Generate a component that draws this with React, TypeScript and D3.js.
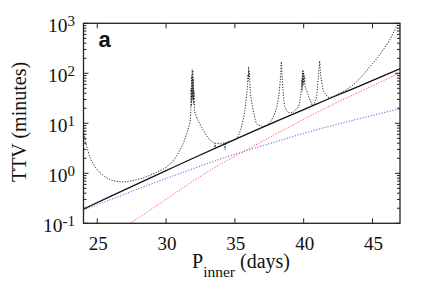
import React, { useEffect, useRef } from 'react';
import * as d3 from 'd3';

const periodTicks = [25, 30, 35, 40, 45];
const ttvTicks = [0.1, 1, 10, 100, 1000];
const ttvTickExponents = ['-1', '0', '1', '2', '3'];

// analytic curves
const periods = [24, 26, 28, 30, 32, 34, 36, 38, 40, 42, 44, 46, 47];
const totalTtv = [0.193, 0.35, 0.63, 1.13, 2.02, 3.57, 6.27, 10.9, 18.8, 32.4, 55, 94, 123];
const blueTtv = [0.185, 0.3, 0.49, 0.785, 1.245, 1.95, 2.92, 4.3, 6.3, 8.9, 12.3, 16.8, 19.5];
const redPeriods = [27.4, 28, 30, 32, 34, 36, 38, 40, 42, 44, 46, 47];
const redTtv = [0.1, 0.129, 0.302, 0.708, 1.55, 3.09, 6.17, 12, 22.9, 41.7, 75.9, 102];

// numerical ttv
const nbodyPeriods = [
	24.0, 24.1, 24.3, 24.5, 24.8, 25.1, 25.44, 25.9, 26.4, 26.9, 27.5, 28.0, 28.6, 29.3, 30.05, 30.6,
	31.02, 31.3, 31.5, 31.65, 31.76, 31.8, 31.82, 31.84, 31.86, 31.88, 31.9, 31.92, 31.94, 31.96,
	31.98, 32.0, 32.03, 32.08, 32.2, 32.36, 32.69, 33.0, 33.18, 33.4, 33.54, 33.56, 33.58, 33.9,
	34.1, 34.27, 34.29, 34.31, 34.7, 35.11, 35.4, 35.6, 35.75, 35.84, 35.92, 35.96, 35.98, 36.0,
	36.02, 36.05, 36.1, 36.24, 36.4, 36.57, 36.8, 37.05, 37.3, 37.6, 37.9, 38.1, 38.26, 38.33,
	38.38, 38.43, 38.5, 38.63, 38.8, 38.99, 39.2, 39.4, 39.6, 39.75, 39.84, 39.87, 39.89, 39.91,
	39.93, 39.95, 39.97, 39.99, 40.02, 40.06, 40.1, 40.2, 40.4, 40.57, 40.65, 40.8, 40.93, 41.05,
	41.12, 41.16, 41.2, 41.3, 41.42, 41.6, 41.78, 42.1, 42.5, 43.1, 43.5, 43.84, 44.3, 44.8, 45.3,
	45.78, 46.2, 46.5, 46.87, 47.0
];
const nbodyTtv = [
	8, 5, 3, 2.0, 1.4, 1.1, 0.9, 0.76, 0.69, 0.67, 0.71, 0.76, 0.86, 1.05, 1.35, 1.9,
	2.95, 4.3, 6.3, 8.5, 11.7, 18, 50, 22, 90, 28, 120, 35, 115, 30,
	80, 24, 45, 17, 13.5, 11, 7.4, 5.4, 4.7, 4.2, 4.0, 3.1, 4.0, 3.9,
	3.95, 4.1, 2.95, 4.1, 4.4, 5.0, 7.2, 11.7, 20, 34, 60, 95, 70, 135,
	85, 110, 55, 25, 15, 10, 9.0, 8.7, 9.0, 11, 15.8, 25, 54, 95,
	170, 90, 45, 21.4, 17.5, 16.2, 16.5, 18.5, 21.4, 32, 54, 80, 45, 110,
	55, 117, 60, 105, 65, 90, 55, 47, 32, 25, 22.4, 26, 34, 74,
	130, 177, 120, 70, 47, 38, 33, 34, 38.5, 47, 56, 68, 92, 135, 195,
	295, 440, 630, 1000, 1180
];

const serif = '\'Liberation Serif\', \'Times New Roman\', serif';

const drawChart = (ref) => {
	const svg = d3.select(ref.current);
	svg.selectAll('*').remove();

	const left = 83.5;
	const right = 400;
	const top = 23.3;
	const bottom = 223.3;

	const x = d3.scaleLinear().domain([24, 47]).range([left, right]);
	const y = d3.scaleLog().domain([0.1, 1000]).range([bottom, top]);

	svg.append('defs')
		.append('clipPath')
		.attr('id', 'plot-clip')
		.append('rect')
		.attr('x', left)
		.attr('y', top)
		.attr('width', right - left)
		.attr('height', bottom - top);

	const plot = svg.append('g').attr('clip-path', 'url(#plot-clip)');

	const line = d3.line()
		.x((d) => x(d[0]))
		.y((d) => y(d[1]))
		.curve(d3.curveMonotoneX);

	plot.append('path')
		.attr('d', line(periods.map((p, i) => [p, blueTtv[i]])))
		.attr('fill', 'none')
		.attr('stroke', '#6060dd')
		.attr('stroke-width', 1)
		.attr('stroke-dasharray', '1.2,1.6');

	plot.append('path')
		.attr('d', line(redPeriods.map((p, i) => [p, redTtv[i]])))
		.attr('fill', 'none')
		.attr('stroke', '#ff5050')
		.attr('stroke-width', 1)
		.attr('stroke-dasharray', '1.2,1.6');

	plot.append('path')
		.attr('d', line(periods.map((p, i) => [p, totalTtv[i]])))
		.attr('fill', 'none')
		.attr('stroke', '#111')
		.attr('stroke-width', 1.3);

	plot.append('path')
		.attr('d', line(nbodyPeriods.map((p, i) => [p, nbodyTtv[i]])))
		.attr('fill', 'none')
		.attr('stroke', '#2a2a2a')
		.attr('stroke-width', 1)
		.attr('stroke-dasharray', '1.2,1.5');

	// frame
	svg.append('rect')
		.attr('x', left)
		.attr('y', top)
		.attr('width', right - left)
		.attr('height', bottom - top)
		.attr('fill', 'none')
		.attr('stroke', '#222')
		.attr('stroke-width', 1.3);

	const ticks = svg.append('g').attr('stroke', '#222').attr('stroke-width', 1);

	periodTicks.forEach((t) => {
		ticks.append('line').attr('x1', x(t)).attr('x2', x(t)).attr('y1', bottom).attr('y2', bottom - 5);
		ticks.append('line').attr('x1', x(t)).attr('x2', x(t)).attr('y1', top).attr('y2', top + 5);
	});

	ttvTicks.forEach((t, i) => {
		ticks.append('line').attr('x1', left).attr('x2', left + 5).attr('y1', y(t)).attr('y2', y(t));
		ticks.append('line').attr('x1', right).attr('x2', right - 5).attr('y1', y(t)).attr('y2', y(t));
		if (i < ttvTicks.length - 1) {
			d3.range(2, 10).forEach((m) => {
				const v = t * m;
				ticks.append('line').attr('x1', left).attr('x2', left + 3).attr('y1', y(v)).attr('y2', y(v));
				ticks.append('line').attr('x1', right).attr('x2', right - 3).attr('y1', y(v)).attr('y2', y(v));
			});
		}
	});

	const labels = svg.append('g').attr('font-family', serif).attr('fill', '#111');

	periodTicks.forEach((t) => {
		labels.append('text')
			.attr('x', x(t) + 1)
			.attr('y', 249.5)
			.attr('text-anchor', 'middle')
			.attr('font-size', 19)
			.text(t);
	});

	ttvTicks.forEach((t, i) => {
		const label = labels.append('text')
			.attr('x', 75)
			.attr('y', y(t) + 8.4)
			.attr('text-anchor', 'end')
			.attr('font-size', 19.5);
		label.append('tspan').text('10');
		label.append('tspan')
			.attr('dy', -6)
			.attr('font-size', 15)
			.text(ttvTickExponents[i]);
	});

	const xLabel = labels.append('text')
		.attr('x', 241)
		.attr('y', 268)
		.attr('text-anchor', 'middle')
		.attr('font-size', 20);
	xLabel.append('tspan').text('P');
	xLabel.append('tspan').attr('dy', 9).attr('font-size', 15.5).text('inner');
	xLabel.append('tspan').attr('dy', -9).text(' (days)');

	labels.append('text')
		.attr('transform', 'translate(25.5, 122) rotate(-90)')
		.attr('text-anchor', 'middle')
		.attr('font-size', 20)
		.text('TTV (minutes)');

	svg.append('text')
		.attr('x', 98.5)
		.attr('y', 47)
		.attr('font-family', '\'Liberation Sans\', Arial, sans-serif')
		.attr('font-weight', 'bold')
		.attr('font-size', 22)
		.attr('fill', '#111')
		.text('a');
};

const App = () => {
	const ref = useRef(null);

	useEffect(() => drawChart(ref), []);

	return (
		<svg
			ref={ ref }
			width={ 435 }
			height={ 305 }
			style={ { position: 'absolute', left: 0, top: 0, background: '#fff' } }/>
	);
};

export default App;
